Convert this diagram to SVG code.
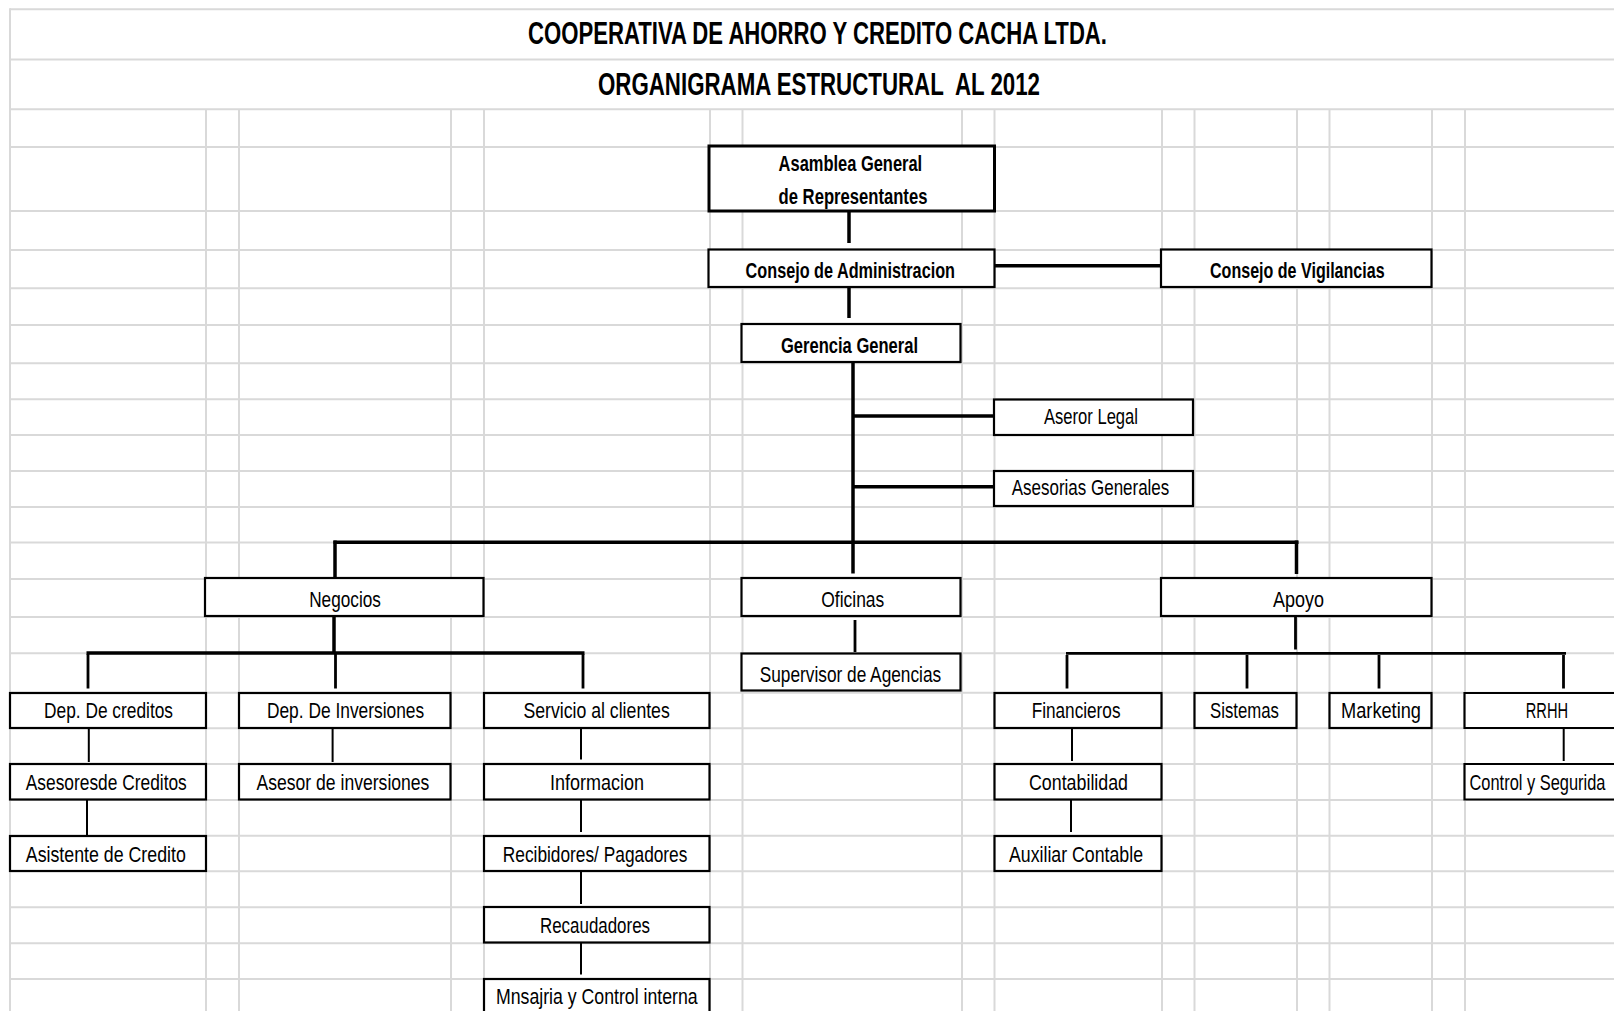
<svg xmlns="http://www.w3.org/2000/svg" width="1614" height="1011" viewBox="0 0 1614 1011">
<style>
.grid line{stroke:#d9d9d9;stroke-width:2}
.box{fill:#fff;stroke:#000;stroke-width:2.2}
.heavy{stroke-width:3}
.open{fill:none;stroke:#000;stroke-width:2.2}
.k1{stroke:#000;stroke-width:3.5;fill:none}
.k2{stroke:#000;stroke-width:2.8;fill:none}
.k3{stroke:#000;stroke-width:2;fill:none}
.t{font-family:"Liberation Sans Narrow","Liberation Sans",Arial,sans-serif;font-size:22px;fill:#000}
.b{font-weight:bold}
.ttl{font-family:"Liberation Sans Narrow","Liberation Sans",Arial,sans-serif;font-weight:bold;fill:#000}
</style>
<rect width="1614" height="1011" fill="#fff"/>
<g id="grid" class="grid">
<line x1="10" y1="9.3" x2="1614" y2="9.3"/>
<line x1="10" y1="59.5" x2="1614" y2="59.5"/>
<line x1="10" y1="109.3" x2="1614" y2="109.3"/>
<line x1="10" y1="147" x2="1614" y2="147"/>
<line x1="10" y1="211" x2="1614" y2="211"/>
<line x1="10" y1="250" x2="1614" y2="250"/>
<line x1="10" y1="288.3" x2="1614" y2="288.3"/>
<line x1="10" y1="325" x2="1614" y2="325"/>
<line x1="10" y1="363.3" x2="1614" y2="363.3"/>
<line x1="10" y1="399.3" x2="1614" y2="399.3"/>
<line x1="10" y1="435" x2="1614" y2="435"/>
<line x1="10" y1="471" x2="1614" y2="471"/>
<line x1="10" y1="507" x2="1614" y2="507"/>
<line x1="10" y1="542.5" x2="1614" y2="542.5"/>
<line x1="10" y1="579" x2="1614" y2="579"/>
<line x1="10" y1="617" x2="1614" y2="617"/>
<line x1="10" y1="653.3" x2="1614" y2="653.3"/>
<line x1="10" y1="692.7" x2="1614" y2="692.7"/>
<line x1="10" y1="728.3" x2="1614" y2="728.3"/>
<line x1="10" y1="764" x2="1614" y2="764"/>
<line x1="10" y1="800" x2="1614" y2="800"/>
<line x1="10" y1="835.7" x2="1614" y2="835.7"/>
<line x1="10" y1="871.3" x2="1614" y2="871.3"/>
<line x1="10" y1="907.3" x2="1614" y2="907.3"/>
<line x1="10" y1="943.3" x2="1614" y2="943.3"/>
<line x1="10" y1="979" x2="1614" y2="979"/>
<line x1="10" y1="8.3" x2="10" y2="1011"/>
<line x1="206" y1="109.3" x2="206" y2="1011"/>
<line x1="239" y1="109.3" x2="239" y2="1011"/>
<line x1="451" y1="109.3" x2="451" y2="1011"/>
<line x1="484" y1="109.3" x2="484" y2="1011"/>
<line x1="710" y1="109.3" x2="710" y2="1011"/>
<line x1="742.5" y1="109.3" x2="742.5" y2="1011"/>
<line x1="962" y1="109.3" x2="962" y2="1011"/>
<line x1="994.5" y1="109.3" x2="994.5" y2="1011"/>
<line x1="1162" y1="109.3" x2="1162" y2="1011"/>
<line x1="1194.5" y1="109.3" x2="1194.5" y2="1011"/>
<line x1="1297" y1="109.3" x2="1297" y2="1011"/>
<line x1="1329.5" y1="109.3" x2="1329.5" y2="1011"/>
<line x1="1432" y1="109.3" x2="1432" y2="1011"/>
<line x1="1465" y1="109.3" x2="1465" y2="1011"/>
</g>
<g id="titles">
<text class="ttl" x="528" y="44" font-size="31" textLength="579" lengthAdjust="spacingAndGlyphs">COOPERATIVA DE AHORRO Y CREDITO CACHA LTDA.</text>
<text class="ttl" x="598" y="95" font-size="31" textLength="442" lengthAdjust="spacingAndGlyphs" xml:space="preserve">ORGANIGRAMA ESTRUCTURAL  AL 2012</text>
</g>
<g id="connectors">
<line class="k1" x1="849" y1="211" x2="849" y2="243"/>
<line class="k1" x1="849" y1="287" x2="849" y2="318"/>
<line class="k1" x1="994" y1="265.7" x2="1161" y2="265.7"/>
<line class="k1" x1="853" y1="362" x2="853" y2="573.5"/>
<line class="k1" x1="853" y1="416" x2="994" y2="416"/>
<line class="k1" x1="853" y1="486.7" x2="994" y2="486.7"/>
<line class="k1" x1="333.5" y1="542.3" x2="1298.5" y2="542.3"/>
<line class="k1" x1="335" y1="540.5" x2="335" y2="578"/>
<line class="k1" x1="1296.5" y1="540.5" x2="1296.5" y2="574"/>
<line class="k1" x1="334" y1="616" x2="334" y2="653"/>
<line class="k1" x1="86.5" y1="653" x2="584.5" y2="653"/>
<line class="k2" x1="88" y1="654" x2="88" y2="688.5"/>
<line class="k2" x1="335.5" y1="654" x2="335.5" y2="688.5"/>
<line class="k2" x1="583" y1="654" x2="583" y2="688.5"/>
<line class="k2" x1="855" y1="620" x2="855" y2="652"/>
<line class="k2" x1="1295.5" y1="616" x2="1295.5" y2="649.5"/>
<line class="k2" x1="1066" y1="653.3" x2="1566" y2="653.3"/>
<line class="k2" x1="1067" y1="655" x2="1067" y2="688.5"/>
<line class="k2" x1="1247" y1="655" x2="1247" y2="688.5"/>
<line class="k2" x1="1379" y1="655" x2="1379" y2="688.5"/>
<line class="k2" x1="1563.5" y1="655" x2="1563.5" y2="688.5"/>
<line class="k3" x1="88.8" y1="728" x2="88.8" y2="762"/>
<line class="k3" x1="87" y1="799" x2="87" y2="835"/>
<line class="k3" x1="332.6" y1="728" x2="332.6" y2="762"/>
<line class="k3" x1="581" y1="728" x2="581" y2="759.5"/>
<line class="k3" x1="581" y1="799" x2="581" y2="832"/>
<line class="k3" x1="581" y1="871" x2="581" y2="904"/>
<line class="k3" x1="581" y1="942.5" x2="581" y2="974.5"/>
<line class="k3" x1="1072" y1="728" x2="1072" y2="761"/>
<line class="k3" x1="1071" y1="799" x2="1071" y2="832"/>
<line class="k3" x1="1563.7" y1="728" x2="1563.7" y2="761"/>
</g>
<g id="asamblea"><rect class="box heavy" x="709" y="146" width="285.5" height="65"/>
<text class="t b" x="778.6" y="171" textLength="143.6" lengthAdjust="spacingAndGlyphs">Asamblea General</text>
<text class="t b" x="778.6" y="203.5" textLength="148.8" lengthAdjust="spacingAndGlyphs">de Representantes</text></g>
<g id="consejo-administracion"><rect class="box" x="708.5" y="249.5" width="286" height="37.5"/>
<text class="t b" x="745.6" y="277.7" textLength="209.4" lengthAdjust="spacingAndGlyphs">Consejo de Administracion</text></g>
<g id="consejo-vigilancias"><rect class="box" x="1161" y="249.5" width="270.5" height="37.5"/>
<text class="t b" x="1210" y="277.7" textLength="174.6" lengthAdjust="spacingAndGlyphs">Consejo de Vigilancias</text></g>
<g id="gerencia"><rect class="box" x="741.5" y="324" width="219" height="38"/>
<text class="t b" x="781" y="352.7" textLength="137" lengthAdjust="spacingAndGlyphs">Gerencia General</text></g>
<g id="aseror-legal"><rect class="box" x="994" y="399.5" width="199" height="35.5"/>
<text class="t" x="1044" y="423.5" textLength="94" lengthAdjust="spacingAndGlyphs">Aseror Legal</text></g>
<g id="asesorias"><rect class="box" x="994" y="471" width="199" height="35"/>
<text class="t" x="1011.8" y="495" textLength="157.5" lengthAdjust="spacingAndGlyphs">Asesorias Generales</text></g>
<g id="negocios"><rect class="box" x="205" y="578" width="278.5" height="38"/>
<text class="t" x="309.2" y="606.7" textLength="71.7" lengthAdjust="spacingAndGlyphs">Negocios</text></g>
<g id="oficinas"><rect class="box" x="741.5" y="578" width="219" height="38"/>
<text class="t" x="821.3" y="606.7" textLength="63" lengthAdjust="spacingAndGlyphs">Oficinas</text></g>
<g id="apoyo"><rect class="box" x="1161" y="578" width="270.5" height="38"/>
<text class="t" x="1273" y="606.7" textLength="51" lengthAdjust="spacingAndGlyphs">Apoyo</text></g>
<g id="supervisor"><rect class="box" x="741.5" y="653.5" width="219" height="37"/>
<text class="t" x="759.7" y="681.5" textLength="181.5" lengthAdjust="spacingAndGlyphs">Supervisor de Agencias</text></g>
<g id="dep-creditos"><rect class="box" x="10" y="693" width="196" height="35"/>
<text class="t" x="44" y="718.3" textLength="129" lengthAdjust="spacingAndGlyphs">Dep. De creditos</text></g>
<g id="dep-inversiones"><rect class="box" x="239" y="693" width="211.5" height="35"/>
<text class="t" x="266.9" y="718.3" textLength="157.3" lengthAdjust="spacingAndGlyphs">Dep. De Inversiones</text></g>
<g id="servicio"><rect class="box" x="484" y="693" width="225.5" height="35"/>
<text class="t" x="523.4" y="718.3" textLength="146.4" lengthAdjust="spacingAndGlyphs">Servicio al clientes</text></g>
<g id="financieros"><rect class="box" x="994.5" y="693" width="167" height="35"/>
<text class="t" x="1031.7" y="718.3" textLength="88.8" lengthAdjust="spacingAndGlyphs">Financieros</text></g>
<g id="sistemas"><rect class="box" x="1194.5" y="693" width="102" height="35"/>
<text class="t" x="1210" y="718.3" textLength="68.9" lengthAdjust="spacingAndGlyphs">Sistemas</text></g>
<g id="marketing"><rect class="box" x="1329.5" y="693" width="102" height="35"/>
<text class="t" x="1341" y="718.3" textLength="80" lengthAdjust="spacingAndGlyphs">Marketing</text></g>
<g id="rrhh"><rect x="1464.5" y="693" width="149.5" height="35" fill="#fff"/>
<path class="open" d="M1614 693H1464.5V728H1614"/>
<text class="t" x="1525.8" y="718.3" textLength="42.3" lengthAdjust="spacingAndGlyphs">RRHH</text></g>
<g id="asesores-creditos"><rect class="box" x="10" y="764" width="196" height="35.5"/>
<text class="t" x="25.8" y="790" textLength="161" lengthAdjust="spacingAndGlyphs">Asesoresde Creditos</text></g>
<g id="asesor-inversiones"><rect class="box" x="239" y="764" width="211.5" height="35.5"/>
<text class="t" x="256.5" y="790" textLength="172.9" lengthAdjust="spacingAndGlyphs">Asesor de inversiones</text></g>
<g id="informacion"><rect class="box" x="484" y="764" width="225.5" height="35.5"/>
<text class="t" x="550" y="790" textLength="94" lengthAdjust="spacingAndGlyphs">Informacion</text></g>
<g id="contabilidad"><rect class="box" x="994.5" y="764" width="167" height="35.5"/>
<text class="t" x="1029" y="790" textLength="99" lengthAdjust="spacingAndGlyphs">Contabilidad</text></g>
<g id="control-seguridad"><rect x="1464.5" y="764" width="149.5" height="35.5" fill="#fff"/>
<path class="open" d="M1614 764H1464.5V799.5H1614"/>
<text class="t" x="1469.5" y="790" font-size="20" textLength="136" lengthAdjust="spacingAndGlyphs">Control y Segurida</text></g>
<g id="asistente"><rect class="box" x="10" y="836" width="196" height="35"/>
<text class="t" x="25.8" y="861.7" textLength="160" lengthAdjust="spacingAndGlyphs">Asistente de Credito</text></g>
<g id="recibidores"><rect class="box" x="484" y="836" width="225.5" height="35"/>
<text class="t" x="502.8" y="861.7" textLength="184.6" lengthAdjust="spacingAndGlyphs">Recibidores/ Pagadores</text></g>
<g id="auxiliar"><rect class="box" x="994.5" y="836" width="167" height="35"/>
<text class="t" x="1009" y="861.7" textLength="134" lengthAdjust="spacingAndGlyphs">Auxiliar Contable</text></g>
<g id="recaudadores"><rect class="box" x="484" y="907" width="225.5" height="35.5"/>
<text class="t" x="540" y="933.3" textLength="110" lengthAdjust="spacingAndGlyphs">Recaudadores</text></g>
<g id="mnsajria"><rect class="box" x="484" y="979" width="225.5" height="36"/>
<text class="t" x="496" y="1004" textLength="201.7" lengthAdjust="spacingAndGlyphs">Mnsajria y Control interna</text></g>
</svg>
